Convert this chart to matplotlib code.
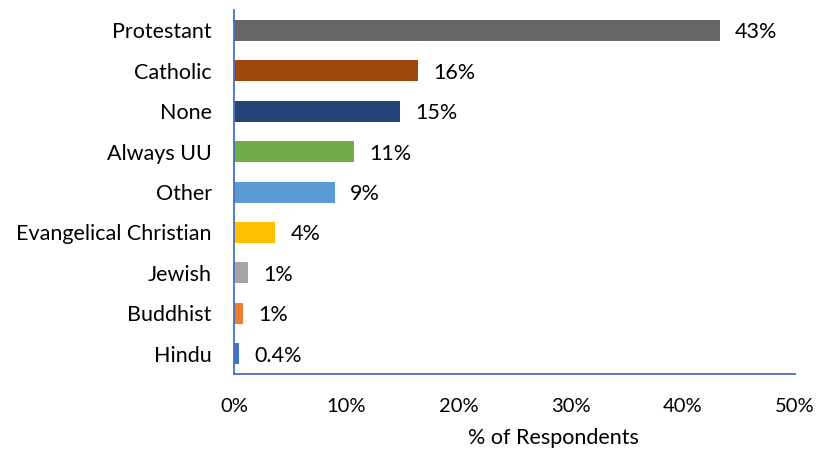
import matplotlib.pyplot as plt
from matplotlib.ticker import PercentFormatter

categories = ['Protestant', 'Catholic', 'None', 'Always UU', 'Other',
              'Evangelical Christian', 'Jewish', 'Buddhist', 'Hindu']
values = [43.3, 16.4, 14.8, 10.7, 9.0, 3.7, 1.25, 0.8, 0.45]
labels = ['43%', '16%', '15%', '11%', '9%', '4%', '1%', '1%', '0.4%']
colors = ['#666666', '#9E480E', '#264478', '#70AD47', '#5B9BD5',
          '#FFC000', '#A5A5A5', '#ED7D31', '#4472C4']
xticks = [0, 10, 20, 30, 40, 50]

plt.rcParams['font.family'] = ['Lato', 'DejaVu Sans']

fig = plt.figure(figsize=(8.25, 4.51), dpi=100)
ax = fig.add_axes([0.2836, 0.1707, 0.68, 0.807])

ypos = list(range(len(categories)))[::-1]
ax.barh(ypos, values, height=0.52, color=colors)

for y, v, lab in zip(ypos, values, labels):
    ax.annotate(lab, (v, y), xytext=(15, -2), textcoords='offset pixels',
                va='center', ha='left', fontsize=15.5, color='black')

ax.set_ylim(-0.5, 8.5)
ax.set_xlim(0, 50)
ax.set_yticks(ypos)
ax.set_yticklabels(categories, fontsize=15.5)
ax.set_xticks(xticks)
ax.xaxis.set_major_formatter(PercentFormatter(decimals=0))
ax.tick_params(axis='x', length=0, pad=17, labelsize=14.5)
ax.tick_params(axis='y', length=0, pad=16)

for s in ['top', 'right']:
    ax.spines[s].set_visible(False)
for s in ['left', 'bottom']:
    ax.spines[s].set_color('#4472C4')
    ax.spines[s].set_linewidth(1.3)

fig.text(553 / 825, 1 - 438 / 451, '% of Respondents', ha='center', va='center',
         fontsize=15.5)

fig.savefig('out.png', dpi=100)
